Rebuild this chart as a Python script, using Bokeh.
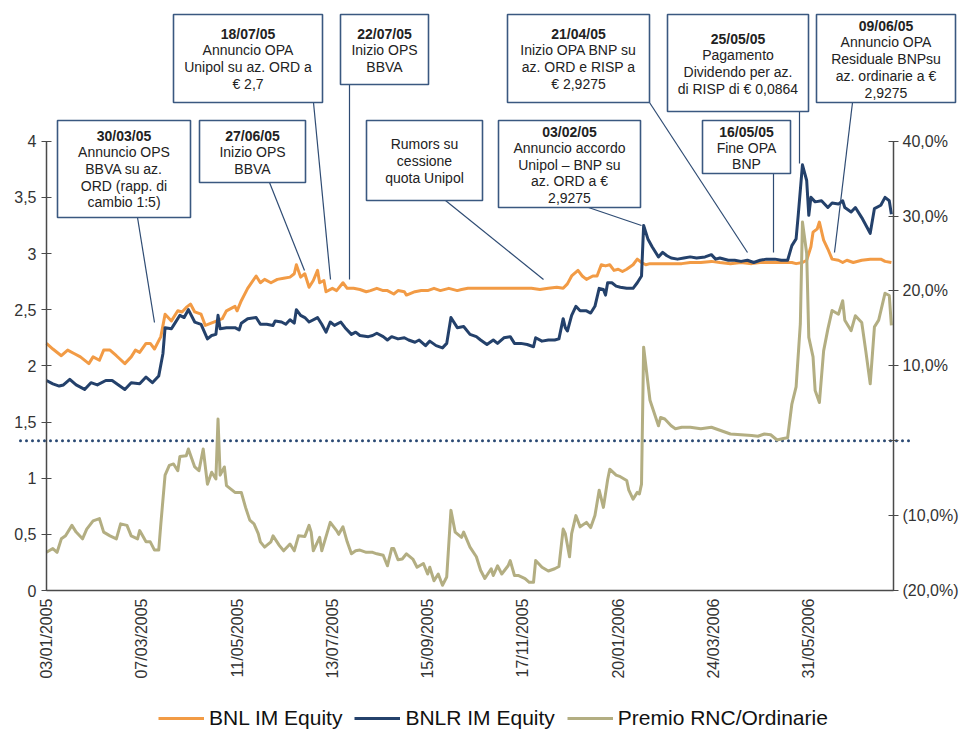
from math import pi
from bokeh.plotting import figure
from bokeh.models import (Range1d, LinearAxis, FixedTicker, Legend, LegendItem,
                          BoxAnnotation, Label, Arrow)
from bokeh.embed import file_html
from bokeh.resources import INLINE

# ---------------- data ----------------
tick_days = [0, 45, 90, 135, 180, 225, 270, 315, 360]
tick_labels = ["03/01/2005", "07/03/2005", "11/05/2005", "13/07/2005", "15/09/2005",
               "17/11/2005", "20/01/2006", "24/03/2006", "31/05/2006"]
left_ticks = [0, 0.5, 1, 1.5, 2, 2.5, 3, 3.5, 4]
left_tick_labels = ["0", "0,5", "1", "1,5", "2", "2,5", "3", "3,5", "4"]
right_ticks = [-20, -10, 0, 10, 20, 30, 40]
right_tick_labels = ["(20,0%)", "(10,0%)", " ", "10,0%", "20,0%", "30,0%", "40,0%"]
zero_premium = 0

bnl_day = [0, 3, 7, 10, 13, 16, 20, 22, 25, 27, 30, 33, 37, 40, 42, 44, 47, 49, 51, 54,
           56, 59, 62, 64, 66, 68, 70, 73, 75, 79, 83, 85, 89, 90, 92, 95,
           99, 101, 103, 106, 109, 112, 115, 117, 118, 120, 122, 124, 126, 128, 129, 131, 132, 135,
           137, 140, 142, 145, 148, 151, 153, 156, 159, 161, 164, 166, 169, 170, 174, 177, 180,
           183, 186, 190, 194,
           196, 199, 203, 207, 211, 215, 219, 224, 229, 233, 237, 241, 244, 246, 248, 251, 253,
           255, 258, 260, 262, 264, 266, 268, 270, 272, 274, 277, 279, 281, 283, 285, 290,
           295, 300, 304, 309, 314, 318, 323, 328, 333, 337, 342, 347, 352, 354, 357, 359, 361,
           362, 364, 365, 367, 369, 371, 374, 376, 378, 381, 385, 389, 394, 396, 399]
bnl = [2.20, 2.15, 2.09, 2.14, 2.11, 2.08, 2.02, 2.08, 2.05, 2.14, 2.14, 2.09, 2.02, 2.08, 2.14,
       2.12, 2.20, 2.20, 2.15, 2.26, 2.46, 2.40, 2.49, 2.48, 2.52, 2.55, 2.48, 2.46, 2.36, 2.39,
       2.42, 2.49, 2.53, 2.49, 2.58, 2.69,
       2.80, 2.74, 2.77, 2.74, 2.77, 2.78, 2.79, 2.82, 2.90, 2.79, 2.82, 2.70, 2.76, 2.85, 2.74,
       2.76, 2.66, 2.69, 2.67, 2.74, 2.69, 2.69, 2.68, 2.66, 2.67, 2.69, 2.67, 2.67, 2.64, 2.67,
       2.66, 2.63, 2.66, 2.67, 2.67, 2.69, 2.67, 2.69, 2.67,
       2.68, 2.69, 2.69, 2.69, 2.69, 2.69, 2.69, 2.69, 2.69, 2.68, 2.69, 2.70, 2.69, 2.73, 2.80,
       2.85, 2.80, 2.77, 2.80, 2.80, 2.90, 2.89, 2.90, 2.85, 2.86, 2.84, 2.86, 2.90, 2.95, 2.92,
       2.90, 2.91, 2.91,
       2.91, 2.91, 2.92, 2.92, 2.93, 2.92, 2.91, 2.92, 2.91, 2.92, 2.92, 2.92, 2.92, 2.91, 2.92,
       2.94, 3.06, 3.19, 3.22, 3.28, 3.12, 3.04, 2.95, 2.94, 2.92, 2.94, 2.92, 2.94, 2.95, 2.95,
       2.93, 2.92]

bnlr_day = [0, 3, 6, 8, 11, 14, 18, 21, 24, 28, 31, 34, 37, 40, 44, 47, 50, 53, 55, 56,
            59, 60, 63, 65, 67, 70, 73, 76, 78, 80, 81, 82, 85, 89, 91, 92, 95,
            99, 101, 104, 107, 108, 111, 113, 115, 117, 118, 120, 122, 124, 128, 130, 132, 134,
            136, 139, 141, 144, 146, 148, 152, 154, 156, 159, 161, 163, 166, 169, 171, 174, 176,
            179, 181, 184, 187, 189, 191, 194,
            197, 200, 203, 205, 208, 211, 213, 216, 219, 221, 224, 227, 230, 231, 234, 237, 240,
            242, 244, 245, 246, 248, 250, 252, 255, 257, 259, 261, 263, 264, 265, 267, 269, 271,
            274, 277, 279, 281, 282, 284, 286, 289, 291, 293,
            295, 298, 301, 304, 307, 311, 314, 316, 318, 322, 325, 328, 331, 334, 337, 340, 344,
            347, 350, 352, 354, 355, 357, 359, 360, 361, 363, 366, 369, 371, 374, 376, 377, 380,
            382, 385, 389, 391, 394, 396, 398, 399]
bnlr = [1.87, 1.84, 1.82, 1.83, 1.88, 1.83, 1.79, 1.85, 1.83, 1.87, 1.87, 1.83, 1.79, 1.85, 1.84,
        1.90, 1.85, 1.91, 2.11, 2.34, 2.33, 2.36, 2.45, 2.43, 2.50, 2.39, 2.37, 2.24, 2.27, 2.28,
        2.45, 2.33, 2.34, 2.34, 2.32, 2.38, 2.42,
        2.43, 2.37, 2.37, 2.36, 2.40, 2.39, 2.37, 2.41, 2.38, 2.50, 2.45, 2.43, 2.39, 2.43, 2.37,
        2.30, 2.39, 2.36, 2.39, 2.34, 2.28, 2.30, 2.27, 2.26, 2.27, 2.29, 2.26, 2.23, 2.26, 2.24,
        2.25, 2.23, 2.21, 2.23, 2.18, 2.22, 2.18, 2.16, 2.20, 2.43, 2.34,
        2.35, 2.28, 2.26, 2.23, 2.19, 2.23, 2.20, 2.25, 2.26, 2.20, 2.20, 2.19, 2.17, 2.25, 2.22,
        2.23, 2.23, 2.24, 2.42, 2.34, 2.31, 2.45, 2.53, 2.49, 2.49, 2.47, 2.53, 2.69, 2.68, 2.63,
        2.74, 2.74, 2.71, 2.70, 2.69, 2.69, 2.74, 2.80, 3.25, 3.13, 3.06, 2.97, 3.01, 2.98,
        2.96, 2.95, 2.96, 2.97, 2.96, 2.97, 2.99, 2.95, 2.96, 2.94, 2.94, 2.93, 2.94, 2.92, 2.94,
        2.95, 2.95, 2.94, 2.94, 3.07, 3.13, 3.34, 3.79, 3.65, 3.34, 3.50, 3.46, 3.47, 3.41, 3.45,
        3.44, 3.47, 3.41, 3.37, 3.41, 3.32, 3.18, 3.40, 3.43, 3.50, 3.47, 3.35]

premio_day = [0, 3, 5, 7, 9, 12, 14, 17, 19, 22, 25, 27, 30, 33, 35, 38, 40, 43, 44, 47,
              49, 51, 53, 54, 56, 58, 60, 62, 63, 66, 67, 70, 72, 74, 76, 78, 80, 81, 82, 84,
              85, 89, 92, 94,
              96, 98, 100, 101, 103, 106, 107, 110, 112, 115, 117, 119, 122, 124, 125, 126, 129,
              130, 134, 137, 138, 140, 142, 144, 146, 148, 151, 154, 156, 159, 161, 163, 164, 166,
              168, 170, 173, 175, 178, 180, 181, 183, 185, 187, 189, 191, 193,
              196, 197, 200, 203, 205, 207, 210, 211, 213, 215, 218, 219, 221, 223, 226, 228, 230,
              231, 234, 237, 240, 242, 244, 245, 247, 248, 250, 252, 255, 257, 259, 261, 263, 265,
              266, 269, 271, 274, 275, 277, 279, 280, 281, 282, 285, 289, 290, 292,
              295, 297, 300, 304, 309, 314, 318, 323, 328, 333, 336, 339, 342, 345, 348, 350, 352,
              354, 356, 357, 359, 360, 362, 363, 365, 367, 369, 371, 374, 376, 377, 380, 382, 385,
              387, 389, 391, 393, 396, 398, 399]
premio = [-14.9, -14.4, -14.9, -13.1, -12.7, -11.3, -12.2, -13.1, -11.8, -10.7, -10.4, -12.2,
          -12.7, -13.1, -11.1, -11.3, -12.7, -13.1, -12.0, -13.5, -13.5, -14.6, -14.6, -11.1,
          -4.6, -3.3, -3.1, -4.0, -2.1, -2.0, -1.1, -3.5, -4.0, -1.1, -5.8, -4.2, -5.1, 2.9,
          -4.6, -3.5, -6.0, -6.9, -6.9, -8.9,
          -10.6, -11.1, -12.4, -13.5, -14.2, -13.5, -12.7, -14.0, -14.7, -13.8, -14.7, -12.7,
          -12.8, -11.3, -12.2, -14.7, -12.9, -14.7, -10.9, -12.0, -12.5, -11.5, -13.5, -15.1,
          -14.7, -14.6, -14.9, -14.9, -15.1, -15.3, -16.7, -14.4, -14.4, -15.9, -15.8, -15.1,
          -15.8, -16.9, -16.4, -17.8, -16.9, -18.7, -17.8, -19.3, -18.2, -9.3, -12.2,
          -12.9, -12.2, -14.2, -15.5, -17.3, -18.4, -17.1, -18.0, -16.7, -17.8, -16.7, -16.0,
          -18.0, -18.0, -18.4, -18.9, -18.9, -16.0, -16.9, -17.4, -17.1, -16.8, -11.8, -12.4,
          -15.5, -12.4, -10.0, -11.5, -10.9, -11.6, -10.0, -6.6, -8.9, -5.2, -3.8, -4.6, -4.8,
          -5.3, -6.6, -7.8, -6.9, -7.1, -5.8, 12.5, 5.4, 2.0, 3.1, 2.9,
          2.0, 1.6, 1.8, 1.8, 1.6, 1.8, 1.4, 0.9, 0.8, 0.7, 0.6, 0.9, 0.8, 0.1, 0.3, 0.4, 4.9,
          7.2, 15.6, 29.2, 25.0, 13.8, 11.2, 6.7, 5.1, 12.0, 14.9, 17.4, 16.9, 18.7, 16.1, 14.7,
          16.7, 15.8, 11.8, 7.6, 15.2, 16.1, 19.7, 19.4, 15.4]

series_names = ["BNL IM Equity", "BNLR IM Equity", "Premio RNC/Ordinarie"]

# annotation callouts (text content)
notes_text = [
    ("30/03/05", ["Annuncio OPS", "BBVA su az.", "ORD (rapp. di", "cambio 1:5)"]),
    ("27/06/05", ["Inizio OPS", "BBVA"]),
    ("18/07/05", ["Annuncio OPA", "Unipol su az. ORD a", "€ 2,7"]),
    ("22/07/05", ["Inizio OPS", "BBVA"]),
    (None, ["Rumors su", "cessione", "quota Unipol"]),
    ("03/02/05", ["Annuncio accordo", "Unipol – BNP su", "az. ORD a €", "2,9275"]),
    ("21/04/05", ["Inizio OPA BNP su", "az. ORD e RISP a", "€ 2,9275"]),
    ("25/05/05", ["Pagamento", "Dividendo per az.", "di RISP di € 0,0864"]),
    ("16/05/05", ["Fine OPA", "BNP"]),
    ("09/06/05", ["Annuncio OPA", "Residuale BNPsu", "az. ordinarie a €", "2,9275"]),
]

# ---------------- layout (page pixels; the frame fills the whole canvas) ----------------
W, H = 962, 730
AX_L, AX_R = 46, 893        # page x of the two value axes
AX_B, Y4_PX = 590, 140.7    # page y of value 0 and value 4 (left axis)
X_SPAN = 400                # trading days between the two value axes
PCT_PER_UNIT = (right_ticks[-1] - right_ticks[0]) / (left_ticks[-1] - left_ticks[0])

# callout geometry: box (l, r, t, b), first text line y, line step, leader (x0, y0, x1, y1)
notes_geom = [
    ((57, 190, 120, 217), 135, 16.7, (137, 217, 154, 322)),
    ((199, 305, 120, 182), 135, 16.9, (269, 182, 304, 270)),
    ((173, 322, 14, 102), 33, 16.7, (313, 102, 330, 279)),
    ((340, 428, 14, 84), 33, 16.5, (349, 84, 349, 279)),
    ((366, 482, 120, 200), 143, 17.0, (445, 200, 543, 279)),
    ((498, 640, 120, 207), 131, 16.5, (588, 207, 641, 225)),
    ((507, 649, 14, 102), 33, 16.7, (649, 102, 747, 252)),
    ((667, 808, 14, 111), 38, 16.7, (799, 111, 799, 163)),
    ((702, 790, 120, 173), 131, 16.3, (773, 173, 773, 252)),
    ((816, 955, 14, 102), 25, 16.75, (852, 102, 834, 252)),
]
LEGEND_X, LEGEND_BOTTOM = 158, 730


def dx(px):
    return (px - AX_L) * X_SPAN / (AX_R - AX_L)


def dy(py):
    return (AX_B - py) * left_ticks[-1] / (AX_B - Y4_PX)


FONT = "Liberation Sans"
C_ORANGE = "#F29B45"
C_BLUE = "#24416B"
C_KHAKI = "#B3AE82"
C_BOX = "#3A5880"
C_LEAD = "#2E4B73"
C_TEXT = "#222222"
C_AXIS = "#4A4A4A"

p = figure(width=W, height=H, x_range=Range1d(dx(0), dx(W)), y_range=Range1d(dy(H), dy(0)),
           output_backend="svg", toolbar_location=None,
           min_border_left=0, min_border_right=0, min_border_top=0, min_border_bottom=0,
           outline_line_color=None, background_fill_color="white", border_fill_color="white")
p.grid.visible = False
p.extra_y_ranges = {"pct": Range1d(right_ticks[0] + PCT_PER_UNIT * dy(H),
                                   right_ticks[0] + PCT_PER_UNIT * dy(0))}


def style_axis(ax):
    ax.axis_line_color = C_AXIS
    ax.axis_line_width = 1.5
    ax.major_tick_line_color = C_AXIS
    ax.major_tick_line_width = 1.2
    ax.minor_tick_line_color = None
    ax.major_label_text_font = FONT
    ax.major_label_text_font_size = "16px"
    ax.major_label_text_color = "#333333"


# left axis (drawn at day 0)
ly = p.yaxis[0]
style_axis(ly)
ly.fixed_location = 0
ly.ticker = FixedTicker(ticks=left_ticks)
ly.major_label_overrides = dict(zip(left_ticks, left_tick_labels))
ly.bounds = (left_ticks[0], left_ticks[-1])
ly.major_tick_in = 5
ly.major_tick_out = 5
ly.major_label_standoff = 5

# right axis (drawn at the last day of the span)
ry = LinearAxis(y_range_name="pct", ticker=FixedTicker(ticks=right_ticks), fixed_location=X_SPAN)
style_axis(ry)
ry.major_label_overrides = dict(zip(right_ticks, right_tick_labels))
ry.bounds = (right_ticks[0], right_ticks[-1])
ry.major_tick_in = 5
ry.major_tick_out = 5
ry.major_label_standoff = 4
p.add_layout(ry, "right")

# bottom axis (drawn at value 0)
bx = p.xaxis[0]
style_axis(bx)
bx.fixed_location = 0
bx.ticker = FixedTicker(ticks=tick_days)
bx.major_label_overrides = dict(zip(tick_days, tick_labels))
bx.major_label_orientation = pi / 2
bx.major_tick_in = 0
bx.major_tick_out = 0
bx.major_label_standoff = 8
bx.bounds = (0, X_SPAN)

# zero premium dotted reference line
zero_y = (zero_premium - right_ticks[0]) / PCT_PER_UNIT
p.add_layout(Arrow(end=None, x_start=dx(20), y_start=zero_y, x_end=dx(913), y_end=zero_y,
                   line_color="#2B4A74", line_width=3, line_dash="0 6", line_cap="round",
                   level="underlay"))

r_bnl = p.line(bnl_day, bnl, line_color=C_ORANGE, line_width=3, line_join="round")
r_bnlr = p.line(bnlr_day, bnlr, line_color=C_BLUE, line_width=3, line_join="round")
r_prem = p.line(premio_day, premio, line_color=C_KHAKI, line_width=3, line_join="round",
                y_range_name="pct")

# callouts
for (date, lines), (box, y0, step, lead) in zip(notes_text, notes_geom):
    l, r, t, b = box
    p.add_layout(Arrow(end=None, x_start=dx(lead[0]), y_start=dy(lead[1]),
                       x_end=dx(lead[2]), y_end=dy(lead[3]),
                       line_color=C_LEAD, line_width=1.2))
    p.add_layout(BoxAnnotation(left=dx(l), right=dx(r), top=dy(t), bottom=dy(b),
                               fill_color="white", fill_alpha=1.0,
                               line_color=C_BOX, line_width=1.6, line_alpha=1.0))
    cx = dx((l + r) / 2)
    all_lines = ([date] if date else []) + lines
    for k, txt in enumerate(all_lines):
        p.add_layout(Label(x=cx, y=dy(y0 + k * step), text=txt,
                           text_align="center", text_baseline="middle",
                           text_font=FONT, text_font_size="14px", text_color=C_TEXT,
                           text_font_style="bold" if (date and k == 0) else "normal"))

legend = Legend(items=[LegendItem(label=series_names[0], renderers=[r_bnl]),
                       LegendItem(label=series_names[1], renderers=[r_bnlr]),
                       LegendItem(label=series_names[2], renderers=[r_prem])],
                orientation="horizontal",
                location=(LEGEND_X, H - LEGEND_BOTTOM),
                glyph_width=46, glyph_height=20, label_standoff=5, spacing=12,
                padding=0, margin=0, border_line_color=None, background_fill_alpha=0,
                label_text_font=FONT, label_text_font_size="21px", label_text_color="#111111")
p.add_layout(legend, "center")

open("out.html", "w").write(file_html(p, INLINE))
